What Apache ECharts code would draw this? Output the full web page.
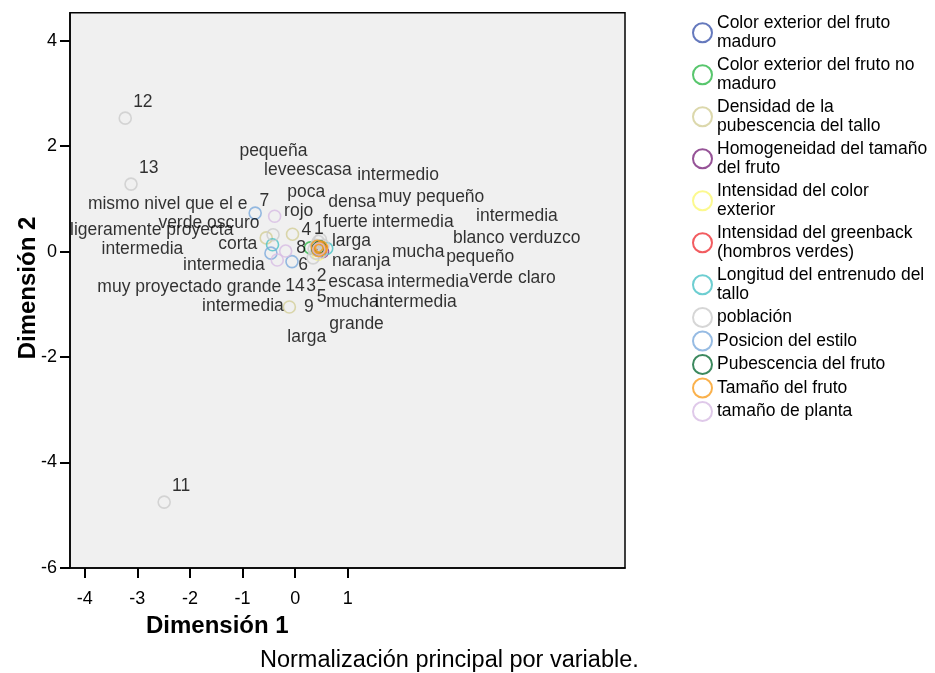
<!DOCTYPE html>
<html>
<head>
<meta charset="utf-8">
<script src="https://cdn.jsdelivr.net/npm/echarts@6/dist/echarts.min.js"></script>
<style>html,body{margin:0;padding:0;background:#fff}#c{width:935px;height:673px}</style>
</head>
<body>
<div id="c"></div>
<script>
// ---- data ----
const seriesNames = [
  "Color exterior del fruto maduro",
  "Color exterior del fruto no maduro",
  "Densidad de la pubescencia del tallo",
  "Homogeneidad del tamaño del fruto",
  "Intensidad del color exterior",
  "Intensidad del greenback (hombros verdes)",
  "Longitud del entrenudo del tallo",
  "población",
  "Posicion del estilo",
  "Pubescencia del fruto",
  "Tamaño del fruto",
  "tamaño de planta"
];
const legendLabels = [
  "Color exterior del fruto\nmaduro",
  "Color exterior del fruto no\nmaduro",
  "Densidad de la\npubescencia del tallo",
  "Homogeneidad del tamaño\ndel fruto",
  "Intensidad del color\nexterior",
  "Intensidad del greenback\n(hombros verdes)",
  "Longitud del entrenudo del\ntallo",
  "población",
  "Posicion del estilo",
  "Pubescencia del fruto",
  "Tamaño del fruto",
  "tamaño de planta"
];
const colorExteriorMaduro   = [[0.47, 0.05], [0.43, 0.09], [0.50, 0.02]];
const colorExteriorNoMaduro = [[0.29, 0.07], [0.46, 0.10]];
const densidadPubescencia   = [[-0.55, 0.26], [-0.05, 0.33], [-0.11, -1.05], [0.45, 0.05]];
const homogeneidadTamano    = [[0.52, 0.00], [0.46, 0.04]];
const intensidadColor       = [[0.44, -0.05], [0.48, 0.08]];
const intensidadGreenback   = [[0.45, 0.09], [0.50, 0.05]];
const longitudEntrenudo     = [[-0.43, 0.13], [0.60, 0.06], [0.45, 0.04]];
const poblacion             = [[-3.23, 2.53], [-3.12, 1.28], [-2.49, -4.75], [-0.42, 0.32], [0.34, -0.12],
                               [0.48, 0.23], [0.44, 0.19], [0.40, 0.12], [0.42, 0.02], [0.50, 0.00],
                               [0.46, 0.10], [0.36, 0.05], [0.53, 0.12], [0.39, -0.03]];
const posicionEstilo        = [[-0.76, 0.73], [-0.46, -0.03], [-0.06, -0.19], [0.45, 0.06]];
const pubescenciaFruto      = [[0.43, 0.05], [0.47, 0.09]];
const tamanoFruto           = [[0.46, 0.06], [0.42, 0.10], [0.50, 0.08], [0.44, 0.02], [0.48, 0.04]];
const tamanoPlanta          = [[-0.39, 0.67], [-0.34, -0.16], [-0.18, 0.01], [0.45, 0.05]];
const seriesPoints = [colorExteriorMaduro, colorExteriorNoMaduro, densidadPubescencia, homogeneidadTamano,
  intensidadColor, intensidadGreenback, longitudEntrenudo, poblacion, posicionEstilo, pubescenciaFruto,
  tamanoFruto, tamanoPlanta];

// point labels (text, anchor in data units)
const labelTexts = ["12","13","11","pequeña","leveescasa","intermedio","poca","densa","muy pequeño","intermedia",
  "mismo nivel que el e","7","rojo","verde oscuro","ligeramente proyecta","4","1","fuerte","intermedia",
  "blanco verduzco","corta","intermedia","larga","8","intermedia","6","naranja","mucha","pequeño","2",
  "escasa","intermedia","verde claro","muy proyectado grande","14","3","5","mucha","intermedia",
  "intermedia","9","grande","larga"];
const labelX = [-3.08,-2.97,-2.34,-1.06,-0.59,1.18,-0.15,0.63,1.58,3.44,
  -3.94,-0.68,-0.21,-2.60,-4.28,0.12,0.36,0.53,1.46,
  3.00,-1.46,-3.68,0.70,0.02,-2.13,0.06,0.70,1.84,2.87,0.41,
  0.63,1.75,3.31,-3.76,-0.19,0.21,0.41,0.59,1.52,
  -1.77,0.17,0.65,-0.15];
const labelY = [2.83,1.58,-4.45,1.90,1.55,1.45,1.13,0.93,1.04,0.67,
  0.89,0.95,0.76,0.53,0.41,0.41,0.43,0.56,0.55,
  0.26,0.14,0.04,0.19,0.06,-0.26,-0.25,-0.19,-0.02,-0.11,-0.47,
  -0.58,-0.58,-0.50,-0.67,-0.66,-0.66,-0.87,-0.96,-0.96,
  -1.04,-1.06,-1.38,-1.62];

const xTicks = [-4, -3, -2, -1, 0, 1];
const yTicks = [-6, -4, -2, 0, 2, 4];

// ---- styles ----
const colors = ["#3e58ac","#2eb848","#d3ce97","#7c287d","#fbf873","#ef3338","#48c2c5","#cccccc","#7caadc","#0b6b36","#f99d1f","#d7bbe3"];
const FONT = "'Liberation Sans', Arial, Helvetica, sans-serif";

const chart = echarts.init(document.getElementById('c'), null, {renderer: 'canvas'});

const series = seriesNames.map((name, i) => ({
  name: name,
  type: 'scatter',
  data: seriesPoints[i],
  symbol: 'circle',
  symbolSize: 12,
  itemStyle: {color: 'rgba(0,0,0,0)', borderColor: colors[i], borderWidth: 1.6},
  emphasis: {disabled: true},
  silent: true,
  z: 3
}));
series.push({
  name: 'labels',
  type: 'scatter',
  symbolSize: 0,
  silent: true,
  data: labelTexts.map((t, i) => [labelX[i], labelY[i], t]),
  label: {
    show: true,
    position: 'inside',
    align: 'left',
    verticalAlign: 'middle',
    formatter: p => p.value[2],
    color: '#000',
    fontFamily: FONT,
    fontSize: 17.5
  },
  z: 4
});

const legendMap = {};
seriesNames.forEach((n, i) => legendMap[n] = legendLabels[i]);

chart.setOption({
  animation: false,
  backgroundColor: '#ffffff',
  grid: {
    left: 70, right: 310, top: 12.7, bottom: 105,
    show: true, backgroundColor: '#f0f0f0', borderColor: '#000', borderWidth: 1.5
  },
  xAxis: {
    type: 'value', min: -4.28, max: 6.27,
    splitLine: {show: false},
    axisLine: {show: true, onZero: false, lineStyle: {color: '#000', width: 1.5}},
    axisTick: {show: true, customValues: xTicks, length: 10, lineStyle: {color: '#000', width: 2}},
    axisLabel: {customValues: xTicks, color: '#000', fontFamily: FONT, fontSize: 18, margin: 22}
  },
  yAxis: {
    type: 'value', min: -6, max: 4.53,
    splitLine: {show: false},
    axisLine: {show: true, onZero: false, lineStyle: {color: '#000', width: 1.5}},
    axisTick: {show: true, customValues: yTicks, length: 10, lineStyle: {color: '#000', width: 2}},
    axisLabel: {customValues: yTicks, color: '#000', fontFamily: FONT, fontSize: 18, margin: 13}
  },
  legend: {
    orient: 'vertical',
    left: 692, top: 13,
    padding: 0,
    data: seriesNames,
    icon: 'circle',
    itemWidth: 19, itemHeight: 19, itemGap: 2.5,
    selectedMode: false,
    itemStyle: {borderWidth: 2},
    formatter: n => legendMap[n],
    textStyle: {fontFamily: FONT, fontSize: 17.5, lineHeight: 19.75, color: '#000'}
  },
  graphic: [
    {type: 'text', left: 146, top: 614,
     style: {text: 'Dimensión 1', font: "bold 24px " + FONT, fill: '#000'}},
    {type: 'text', x: 28, y: 288, rotation: Math.PI / 2, originX: 0, originY: 0,
     style: {text: 'Dimensión 2', font: "bold 24px " + FONT, fill: '#000', align: 'center', verticalAlign: 'middle'}},
    {type: 'text', left: 260, top: 649,
     style: {text: 'Normalización principal por variable.', font: "23.5px " + FONT, fill: '#000'}}
  ],
  series: series
});
</script>
</body>
</html>
